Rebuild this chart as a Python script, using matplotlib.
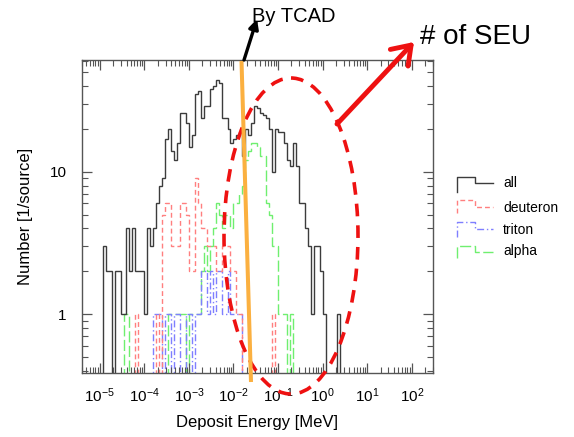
import numpy as np
import matplotlib
matplotlib.use('Agg')
import matplotlib.pyplot as plt
from matplotlib.ticker import LogLocator, FixedLocator, FuncFormatter, NullFormatter
from matplotlib.patches import Ellipse

plt.rcParams['font.family'] = ['Liberation Sans', 'DejaVu Sans']
plt.rcParams['mathtext.fontset'] = 'custom'
plt.rcParams['mathtext.rm'] = 'Liberation Sans'
plt.rcParams['mathtext.it'] = 'Liberation Sans:italic'
plt.rcParams['mathtext.bf'] = 'Liberation Sans:bold'

# ---------------- data ----------------
log_lo = -5.4            # log10 of first bin edge (MeV)
bins_per_decade = 15

all_counts = [0, 0, 0, 0, 0, 0, 0, 3, 2, 2,
              0, 2, 2, 1, 1, 4, 2, 4, 2, 2,
              2, 1, 4, 3, 4, 6, 8, 9, 17, 20,
              14, 12, 16, 26, 26, 22, 15, 18, 35, 37,
              24, 29, 29, 38, 40, 44, 42, 24, 24, 20,
              16, 17, 18, 19, 13, 20, 18, 22, 29, 28,
              26, 25, 24, 20, 10, 20, 19, 19, 16, 12,
              11, 16, 11, 6, 6, 4, 3, 1, 3, 3,
              2, 1, 0, 0, 0, 0, 1, 0, 0, 0]

deuteron = [0, 0, 0, 0, 0, 0, 0, 0, 0, 0,
            0, 0, 0, 0, 0, 0, 0, 0, 1, 0,
            0, 0, 0, 0, 0, 1, 0, 5, 6, 6,
            3, 3, 3, 6, 6, 5, 2, 2, 9, 6,
            4, 4, 3, 3, 3, 2, 2, 3, 3, 3,
            2, 2, 1, 1, 0, 0, 0, 0, 0, 0,
            0, 0, 0, 0, 1, 0, 0, 0, 0, 0,
            0, 0, 0, 0, 0, 0, 0, 0, 0, 0,
            0, 0, 0, 0, 0, 0, 0, 0, 0, 0]

triton = [0, 0, 0, 0, 0, 0, 0, 0, 0, 0,
          0, 0, 0, 0, 0, 0, 0, 0, 0, 0,
          0, 0, 0, 0, 1, 1, 1, 0, 1, 1,
          0, 1, 1, 0, 0, 1, 1, 0, 1, 1,
          2, 2, 1, 2, 1, 2, 2, 1, 1, 2,
          1, 1, 1, 1, 0, 0, 0, 0, 0, 0,
          0, 0, 0, 0, 0, 0, 0, 0, 0, 0,
          0, 0, 0, 0, 0, 0, 0, 0, 0, 0,
          0, 0, 0, 0, 0, 0, 0, 0, 0, 0]

alpha = [0, 0, 0, 0, 0, 0, 0, 0, 0, 0,
         0, 0, 0, 0, 1, 1, 0, 0, 0, 0,
         0, 0, 0, 0, 0, 0, 0, 0, 0, 1,
         1, 1, 1, 1, 1, 0, 1, 1, 1, 1,
         2, 3, 2, 3, 4, 6, 5, 4, 5, 5,
         4, 6, 6, 7, 8, 12, 14, 16, 16, 15,
         13, 13, 6, 5, 3, 3, 1, 1, 1, 0,
         1, 0, 0, 0, 0, 0, 0, 0, 0, 0,
         0, 0, 0, 0, 0, 0, 0, 0, 0, 0]

series_labels = ['all', 'deuteron', 'triton', 'alpha']
x_label = 'Deposit Energy [MeV]'
y_label = 'Number [1/source]'
x_decades = [-5, -4, -3, -2, -1, 0, 1, 2]
y_ticks = [1, 10]
tcad_text = 'By TCAD'
seu_text = '# of SEU'

# ---------------- figure ----------------
W, H = 574, 437
fig = plt.figure(figsize=(W / 100, H / 100), dpi=100)
ax = fig.add_axes([82 / W, 1 - 373 / H, (433 - 82) / W, (373 - 60) / H])

edges = 10 ** (log_lo + np.arange(len(all_counts) + 1) / bins_per_decade)

colors = ['#3c3c3c', '#ff7f7f', '#7f7fff', '#6fef6f']
styles = ['-', (0, (3.5, 2.2)), (0, (5, 2, 1, 2)), (0, (8, 2.5))]
series = [all_counts, deuteron, triton, alpha]

ax.set_xscale('log')
ax.set_yscale('log', nonpositive='clip')
for vals, c, ls in zip(series[::-1], colors[::-1], styles[::-1]):
    ax.stairs(vals, edges, color=c, lw=1.0, ls=ls, baseline=None)

ax.set_xlim(4e-6, 3e2)
ax.set_ylim(0.385, 61)

ax.xaxis.set_major_locator(FixedLocator([10.0 ** d for d in x_decades]))
ax.xaxis.set_minor_locator(LogLocator(base=10, subs=np.arange(2, 10), numticks=20))
ax.xaxis.set_minor_formatter(NullFormatter())
ax.xaxis.set_major_formatter(FuncFormatter(lambda v, p: r'$10^{%d}$' % int(round(np.log10(v)))))
ax.yaxis.set_major_locator(FixedLocator(y_ticks))
ax.yaxis.set_minor_locator(LogLocator(base=10, subs=np.arange(2, 10), numticks=20))
ax.yaxis.set_minor_formatter(NullFormatter())
ax.yaxis.set_major_formatter(FuncFormatter(lambda v, p: '%g' % v))

ax.tick_params(which='both', direction='in', top=True, right=True,
               color='#555555', labelsize=11)
ax.tick_params(which='major', length=7, width=0.9)
ax.tick_params(which='minor', length=4, width=0.8)
ax.tick_params(axis='x', pad=10)
ax.tick_params(axis='y', pad=11)
for s in ax.spines.values():
    s.set_color('#555555')
    s.set_linewidth(1.0)

ax.set_xlabel(x_label, fontsize=12, labelpad=7)
ax.set_ylabel(y_label, fontsize=12, labelpad=12)

# ---------------- annotations (figure pixel coordinates) ----------------
ov = fig.add_axes([0, 0, 1, 1], zorder=5)
ov.set_xlim(0, W)
ov.set_ylim(H, 0)
ov.axis('off')
ov.patch.set_alpha(0)

ov.plot([241.5, 251], [61, 382], color='#fbb040', lw=2.9, solid_capstyle='butt')
ov.annotate('', xy=(257, 19), xytext=(244, 60),
            arrowprops=dict(arrowstyle='-|>', color='black', lw=2.4, mutation_scale=14,
                            shrinkA=0, shrinkB=0))
ov.text(252, 16, tcad_text, fontsize=14.5, va='center', ha='left')

ov.add_patch(Ellipse((291, 236), 134, 316, fill=False, ec='#ee1111', lw=2.6,
                     ls=(0, (3.5, 2.5))))
ov.annotate('', xy=(414, 42), xytext=(337, 124),
            arrowprops=dict(arrowstyle='->,head_length=0.5,head_width=0.35', color='#ee1111',
                            lw=3.5, mutation_scale=25, shrinkA=0, shrinkB=0))
ov.text(420, 37, seu_text, fontsize=20, va='center', ha='left')

# legend (ROOT-style step glyphs)
leg_rows = [(177.3, 183.3, 191.7, 183), (200, 206.7, 213.3, 208),
            (221.7, 229.3, 236.7, 230), (246, 251.7, 258.3, 251)]
for lab, c, ls, (yt, yl, yb, ytx) in zip(series_labels, colors, styles, leg_rows):
    ov.plot([457, 457, 475, 475, 493], [yb, yt, yt, yl, yl], color=c, lw=1.0, ls=ls)
    ov.text(503, ytx, lab, fontsize=10, va='center', ha='left')

fig.savefig('out.png', dpi=100)
